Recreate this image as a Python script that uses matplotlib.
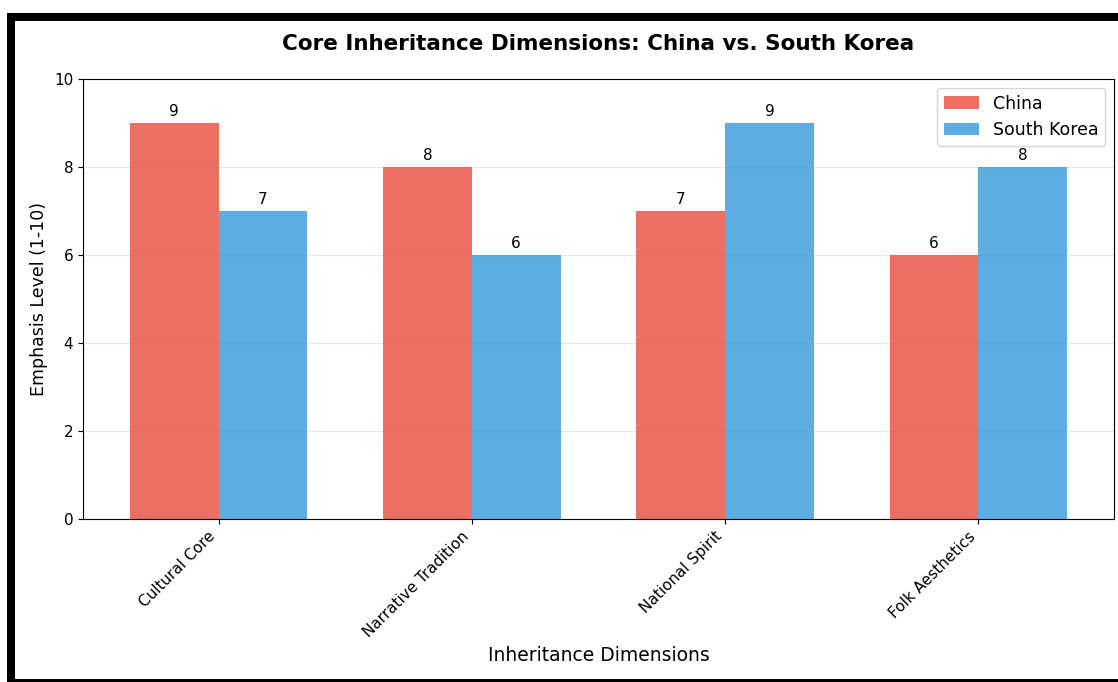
import matplotlib
matplotlib.use("Agg")
import matplotlib.pyplot as plt
import numpy as np
from matplotlib.patches import Rectangle

categories = ["Cultural Core", "Narrative Tradition", "National Spirit", "Folk Aesthetics"]
china = [9, 8, 7, 6]
korea = [7, 6, 9, 8]

W, H = 1118, 682
fig = plt.figure(figsize=(W / 100, H / 100), dpi=100, facecolor="white")


def px_rect(x0, y0, x1, y1, color, z):
    # pixel coords from top-left
    fig.patches.append(Rectangle((x0 / W, 1 - y1 / H), (x1 - x0) / W, (y1 - y0) / H,
                                 transform=fig.transFigure, facecolor=color,
                                 edgecolor="none", zorder=z))


# screenshot frame
px_rect(7, 13, W + 5, H + 5, "black", -10)
px_rect(15, 21, W + 5, 679, "white", -9)

ax = fig.add_axes([83 / W, 1 - 519 / H, (1114 - 83) / W, (519 - 79) / H])
x = np.arange(len(categories))
w = 0.35
b1 = ax.bar(x - w / 2, china, w, color="#e74c3c", alpha=0.8, label="China")
b2 = ax.bar(x + w / 2, korea, w, color="#3498db", alpha=0.8, label="South Korea")
for bars in (b1, b2):
    for r in bars:
        ax.annotate(f"{int(r.get_height())}", (r.get_x() + r.get_width() / 2, r.get_height()),
                    xytext=(0, 3), textcoords="offset points", ha="center", va="bottom", fontsize=11)

ax.set_ylim(0, 10)
ax.set_xticks(x)
ax.set_xticklabels(categories, rotation=45, ha="right", fontsize=11)
ax.tick_params(axis="y", labelsize=11)
ax.set_ylabel("Emphasis Level (1-10)", fontsize=12.5)
ax.set_xlabel("Inheritance Dimensions", fontsize=13.5)
ax.set_title("Core Inheritance Dimensions: China vs. South Korea", fontsize=15.5,
             fontweight="bold", pad=21)
ax.grid(axis="y", alpha=0.3)
ax.set_axisbelow(True)
ax.legend(fontsize=12.5, loc="upper right")

fig.savefig("out.png", dpi=100, facecolor=fig.get_facecolor())
